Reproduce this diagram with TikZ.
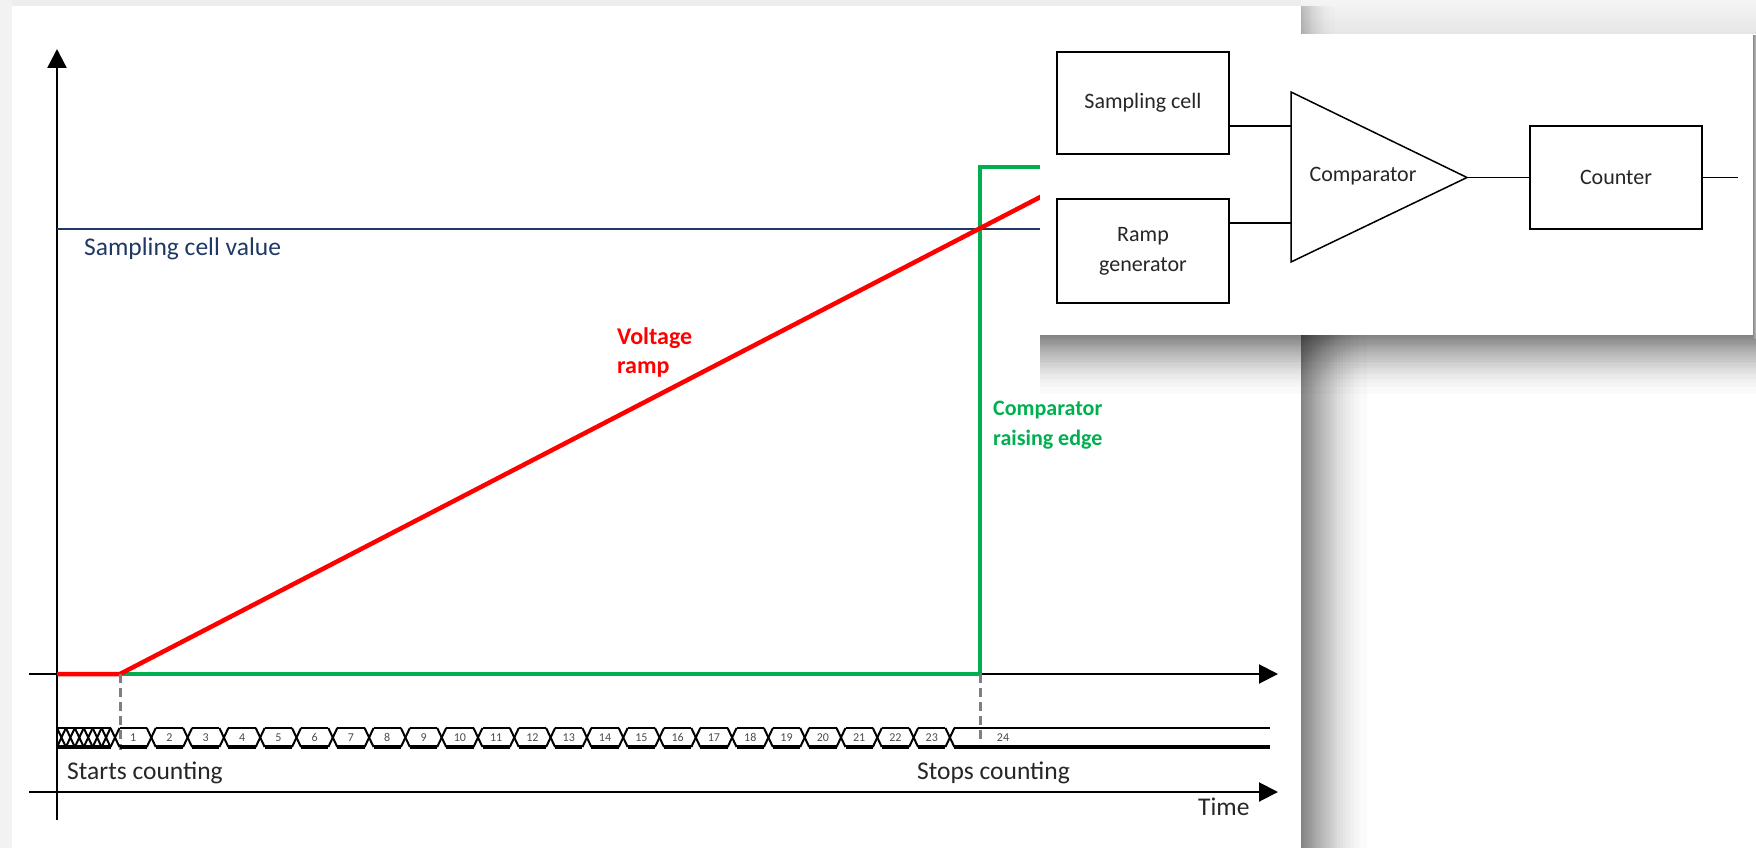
\documentclass[tikz,border=0pt]{standalone}
\usepackage{fontspec}
\setmainfont{Carlito}
\usetikzlibrary{arrows.meta,calc}

\definecolor{navy}{HTML}{1F3864}
\definecolor{rampred}{HTML}{FF0000}
\definecolor{edgegreen}{HTML}{00B050}
\definecolor{ink}{HTML}{262626}
\definecolor{dashgray}{HTML}{7F7F7F}

\begin{document}
\begin{tikzpicture}[x=1pt,y=-1pt,
  axisline/.style={draw=black, line width=2pt, -{Triangle[length=19pt,width=19pt]}},
  yaxisline/.style={draw=black, line width=2.5pt, -{Triangle[length=19pt,width=19pt]}},
  chartlabel/.style={inner sep=0pt, font=\fontsize{25.5}{30}\selectfont},
  boldlabel/.style={inner sep=0pt, align=left},
  dashline/.style={draw=dashgray, line width=3pt, dash pattern=on 9pt off 5pt},
  busthin/.style={draw=black, line width=2pt},
  busthick/.style={draw=black, line width=4pt},
  busnum/.style={inner sep=0pt, text=black!70, font=\fontsize{12}{13}\selectfont},
  blockbox/.style={draw=black, line width=2pt, text=ink, align=center,
    minimum width=172pt, font=\fontsize{22}{30}\selectfont},
  wire/.style={draw=black, line width=1.5pt},
  shadowlayer/.style={fill=black, fill opacity=#1}]

\useasboundingbox (0,0) rectangle (1756,848);

% page tones
\fill[white] (0,0) rectangle (1756,848);
\fill[black!5] (0,0) rectangle (12,848);
\fill[black!7] (12,0) rectangle (1301,6);
\shade[top color=black!4, bottom color=black!10] (1301,0) rectangle (1756,34);

% soft shadow to the right of the chart sheet (stacked translucent layers)
\foreach \i in {1,...,20}{
  \pgfmathsetmacro\w{40*(1-((\i-0.5)/20)^(1/2.2))}
  \path[shadowlayer=0.012] (1301,6) rectangle (1301+\w,34);
}
\foreach \i in {1,...,30}{
  \pgfmathsetmacro\w{78*(1-((\i-0.5)/30)^(1/2.2))}
  \path[shadowlayer=0.021] (1301,335) rectangle (1301+\w,848);
}

% chart sheet
\fill[white] (12,6) rectangle (1301,848);

% axes
\coordinate (ybot) at (57,820);
\coordinate (ytop) at (57,49);
\coordinate (sigL) at (29,674);
\coordinate (sigR) at (1278,674);
\coordinate (timeL) at (29,792);
\coordinate (timeR) at (1278,792);
\draw[yaxisline] (ybot) -- (ytop);
\draw[axisline] (sigL) -- (sigR);
\draw[axisline] (timeL) -- (timeR);

% signals
\coordinate (start) at (120,674);
\coordinate (stop) at (980,674);
\coordinate (cellL) at (57,229);
\coordinate (cellR) at (1045,229);
\draw[navy, line width=2pt] (cellL) -- (cellR);
\draw[edgegreen, line width=3.5pt] (start) -- (stop) -- (980,167) -- (1045,167);
\draw[rampred, line width=4.5pt] (57,674) -- (start) -- (1045,194.6);

% count markers
\draw[dashline] (start) -- (120,750);
\draw[dashline] (stop) -- (980,740);

% counter bus
\def\busT{728}
\def\busB{747}
\def\crossd{4.5}
\draw[busthin] (57,\busT) -- (110.5,\busT);
\draw[busthick] (57,\busB) -- (110.5,\busB);
\foreach \i in {0,...,5}{
  \pgfmathsetmacro\xa{57+8.92*\i}
  \pgfmathsetmacro\xb{57+8.92*(\i+1)}
  \draw[busthin] (\xa,\busT) -- (\xb,\busB) (\xa,\busB) -- (\xb,\busT);
}
\foreach \k in {0,...,23}{
  \pgfmathsetmacro\xc{115+36.3*\k}
  \draw[busthin] (\xc-\crossd,\busT) -- (\xc+\crossd,\busB);
  \draw[busthin] (\xc-\crossd,\busB) -- (\xc+\crossd,\busT);
}
\foreach \k in {1,...,23}{
  \pgfmathsetmacro\xa{115+36.3*(\k-1)}
  \pgfmathsetmacro\xb{115+36.3*\k}
  \draw[busthin] (\xa+\crossd,\busT) -- (\xb-\crossd,\busT);
  \draw[busthick] (\xa+\crossd,\busB) -- (\xb-\crossd,\busB);
  \node[busnum] (num\k) at ({(\xa+\xb)/2},737.5) {\k};
}
\draw[busthin] (954.4,\busT) -- (1270,\busT);
\draw[busthick] (954.4,\busB) -- (1270,\busB);
\node[busnum] (num24) at (1003,737.5) {24};

% chart texts
\node[chartlabel, text=navy, anchor=base west] (cellval) at (84,255) {Sampling cell value};
\node[boldlabel, text=rampred, anchor=base west, font=\bfseries\fontsize{24}{29}\selectfont] (ramplbl) at (617,373) {Voltage\\ramp};
\node[boldlabel, text=edgegreen, anchor=base west, font=\bfseries\fontsize{22}{30}\selectfont] (edgelbl) at (993,445) {Comparator\\raising edge};
\node[chartlabel, text=ink, anchor=base west] (startlbl) at (67,779) {Starts counting};
\node[chartlabel, text=ink, anchor=base west] (stoplbl) at (917,779) {Stops counting};
\node[chartlabel, text=ink, anchor=base west] (timelbl) at (1198,815) {Time};

% block diagram sheet and its shadow
\foreach \i in {1,...,30}{
  \pgfmathsetmacro\h{70*(1-((\i-0.5)/30)^(1/2.2))}
  \path[shadowlayer=0.021] (1040,335) rectangle (1756,335+\h);
}
\shade[left color=black!45, right color=black!25] (1753,36) rectangle (1756,338);
\fill[white] (1040,34) rectangle (1753,335);

\node[blockbox, minimum height=102pt] (sc) at (1143,103) {Sampling cell};
\node[blockbox, minimum height=104pt] (rg) at (1143,251) {Ramp\\generator};
\node[blockbox, minimum height=103pt] (cnt) at (1616,177.5) {Counter};

\coordinate (cmpA) at (1291,92);
\coordinate (cmpB) at (1291,262);
\coordinate (cmpT) at (1467,177.5);
\draw[wire] (cmpA) -- (cmpB) -- (cmpT) -- cycle;
\node[text=ink, font=\fontsize{22}{26}\selectfont] (cmplbl) at (1363,176) {Comparator};

\coordinate (in1) at (1291,126);
\coordinate (in2) at (1291,223);
\coordinate (out) at (1738,177.5);
\draw[wire] (sc.east |- in1) -- (in1);
\draw[wire] (rg.east |- in2) -- (in2);
\draw[wire] (cmpT) -- (cnt.west);
\draw[wire] (cnt.east) -- (out);
\end{tikzpicture}
\end{document}
